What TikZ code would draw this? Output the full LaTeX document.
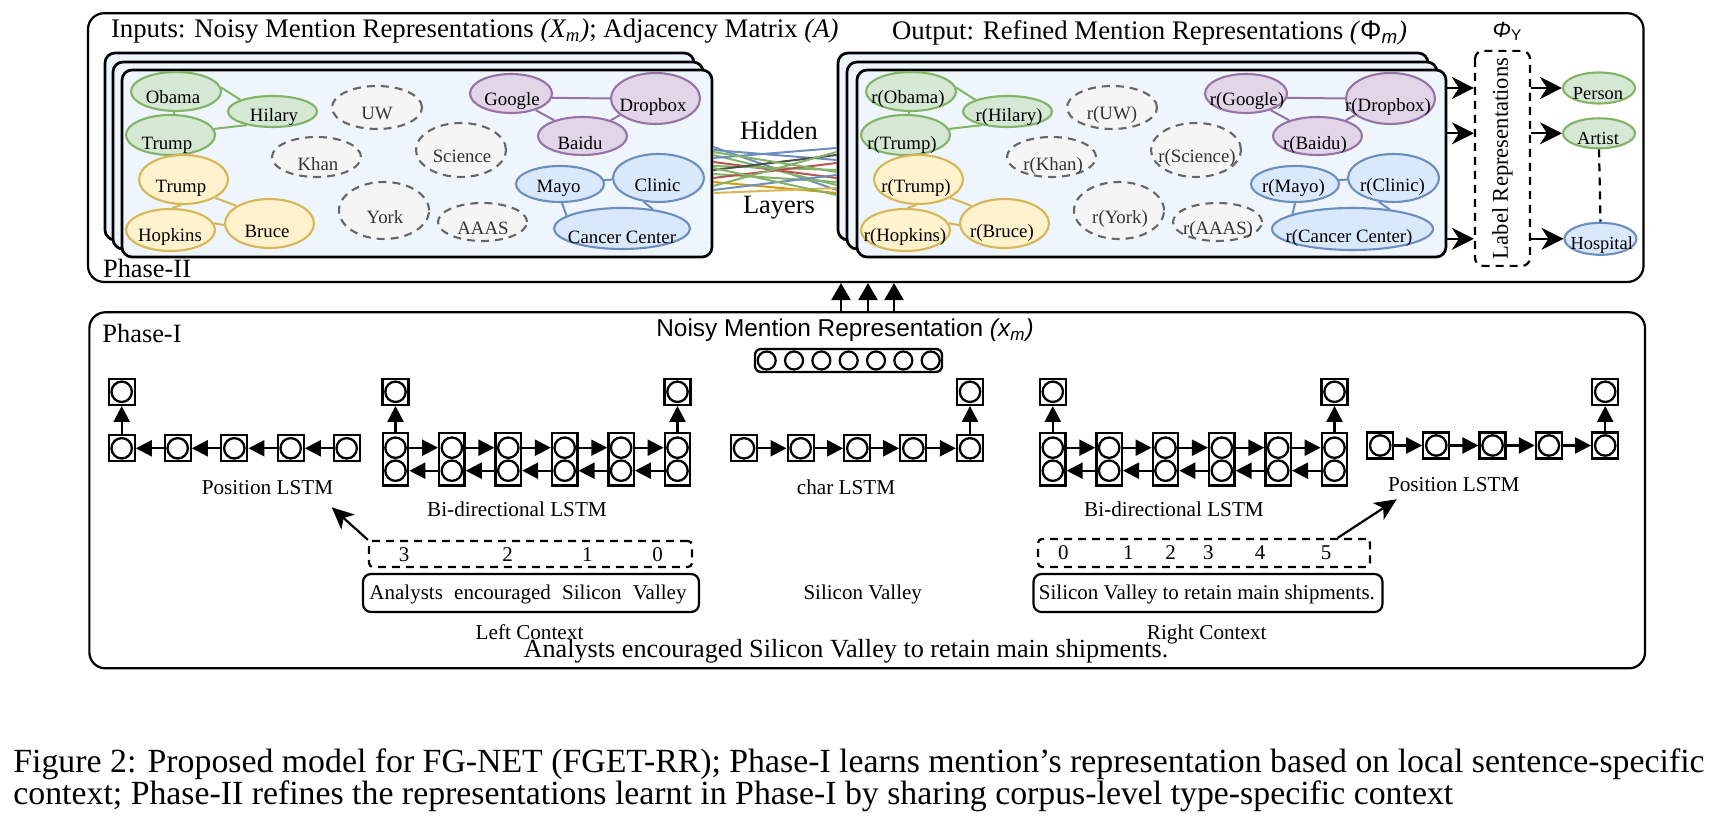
\documentclass[tikz,border=0pt]{standalone}
\usepackage{fontspec}
\setmainfont{Liberation Serif}
\newfontfamily\sansf{Liberation Sans}
\usetikzlibrary{shapes.geometric,arrows.meta,calc}
\newcommand{\fsz}[1]{\fontsize{#1}{#1}\selectfont}
\definecolor{gfill}{HTML}{D5E8D4}\definecolor{gdraw}{HTML}{82B366}
\definecolor{yfill}{HTML}{FFF2CC}\definecolor{ydraw}{HTML}{D6B656}
\definecolor{pfill}{HTML}{E1D5E7}\definecolor{pdraw}{HTML}{9673A6}
\definecolor{bfill}{HTML}{DAE8FC}\definecolor{bdraw}{HTML}{6C8EBF}
\definecolor{dfill}{HTML}{F5F5F5}\definecolor{ddraw}{HTML}{666666}
\definecolor{dtext}{HTML}{333333}
\definecolor{panelfill}{HTML}{EEF5FD}
\definecolor{hbl}{HTML}{6C8EBF}\definecolor{hrd}{HTML}{B85450}
\definecolor{hgr}{HTML}{82B366}\definecolor{hdg}{HTML}{4D4D4D}
\definecolor{hor}{HTML}{D79B00}\definecolor{hyl}{HTML}{D6B656}
\begin{document}
\begin{tikzpicture}[x=0.5pt,y=-0.5pt,
 sz/.style 2 args={minimum width=#1*0.5pt, minimum height=#2*0.5pt},
 ell/.style={ellipse, inner sep=0pt, line width=1.05pt},
 gn/.style={ell, draw=gdraw, fill=gfill},
 yn/.style={ell, draw=ydraw, fill=yfill},
 pn/.style={ell, draw=pdraw, fill=pfill},
 bn/.style={ell, draw=bdraw, fill=bfill},
 dn/.style={ell, draw=ddraw, fill=dfill, dash pattern=on 4pt off 3pt},
 mtext/.style={anchor=base, inner sep=0pt, font=\fsz{9.4pt}},
 gn-t/.style={mtext}, yn-t/.style={mtext}, pn-t/.style={mtext}, bn-t/.style={mtext},
 dn-t/.style={mtext, text=dtext},
 ge/.style={draw=gdraw, line width=1pt},
 ye/.style={draw=ydraw, line width=1pt},
 pe/.style={draw=pdraw, line width=1pt},
 be/.style={draw=bdraw, line width=1pt},
 panel/.style={draw, line width=1.35pt, rounded corners=5pt, fill=panelfill, inner sep=0pt},
 phase/.style={draw, line width=1.1pt, rounded corners=8pt, inner sep=0pt},
 cellbox/.style={draw, line width=1.15pt, minimum size=13pt, inner sep=0pt},
 cellcirc/.style={circle, draw, line width=1.15pt, minimum size=10.2pt, inner sep=0pt},
 bibox/.style={draw, line width=1.15pt, minimum width=12.7pt, minimum height=26.4pt, inner sep=0pt},
 la/.style={line width=1.15pt, -{Triangle[length=8pt,width=8pt]}},
 bigarr/.style={line width=1.1pt, -{Stealth[length=11pt,width=11pt,inset=3.5pt]}},
 triarr/.style={line width=1.1pt, -{Triangle[length=8.5pt,width=9.5pt]}},
 ctxarr/.style={line width=1.1pt, -{Stealth[length=11pt,width=10pt,inset=3pt]}},
 txt/.style={anchor=base, inner sep=0pt},
 lstmlbl/.style={txt, font=\fsz{10.6pt}},
 numlbl/.style={txt, font=\fsz{10.5pt}},
 dashbox/.style={draw, line width=1.1pt, dash pattern=on 4pt off 3pt, rounded corners=2pt, inner sep=0pt},
 ctxbox/.style={draw, line width=1.1pt, rounded corners=4pt, inner sep=0pt},
]
\useasboundingbox (0,0) rectangle (1719,822);
\fill[white] (0,0) rectangle (1719,822);

% ---------------- Phase II ----------------
\node[phase, sz={1555.5}{268.7}] (ph2) at (865.75,147.6) {};
\node[txt, anchor=base west, font=\fsz{13.4pt}] (intitle) at (110.6,37.3)
 {Inputs: Noisy Mention Representations \textit{(X\textsubscript{m})}; Adjacency Matrix \textit{(A)}};
\node[txt, anchor=base west, font=\fsz{13.4pt}] (outtitle) at (891.7,39.5)
 {Output: Refined Mention Representations \textit{(}{\sansf Φ\textsubscript{\itshape m}}\textit{)}};
\node[txt, anchor=base west, font=\fsz{13.2pt}] (ph2lbl) at (102.7,278) {Phase-II};

% stacked panels
\node[panel, sz={589}{187}] (Lb) at (399.5,146.5) {};
\node[panel, sz={590}{187}] (Lm) at (408,155.5) {};
\node[panel, sz={590}{187}] (Lf) at (417,163.5) {};
\node[panel, sz={590}{187}] (Rb) at (1133,146.5) {};
\node[panel, sz={590}{187}] (Rm) at (1142,155.5) {};
\node[panel, sz={589}{187}] (Rf) at (1151.5,163.5) {};

% hidden layer lines
\foreach \a/\b/\c in {147/190/hbl,150/160/hbl,155/185/hgr,158/148/hbl,162/178/hrd,166/170/hgr,
 170/155/hdg,174/182/hgr,178/163/hrd,182/193/hor,186/152/hgr,190/175/hbl,193/188/hyl,168/195/hgr,152/172/hgr}
 \draw[\c, line width=1pt] ($(Lf.east)+(0,\a-163.5)$) -- ($(Rb.west)+(0,\b-146.5)$);
\node[txt, font=\fsz{13.2pt}] (hidden) at (779,140) {Hidden};
\node[txt, font=\fsz{13.2pt}] (layers) at (779,213.3) {Layers};

% mention nodes
\foreach \n/\s/\cx/\cy/\w/\h/\tx/\ty/\t in {
 obama/gn/176/91.5/90/39/173/103.3/Obama,
 hilary/gn/272.5/111.5/89/31/274/121.7/Hilary,
 trumpg/gn/170.5/135/89/40/167/149.3/Trump,
 trumpy/yn/183.5/179.5/89/49/181/192.7/Trump,
 hopkins/yn/170.5/230/89/42/170/241.7/Hopkins,
 bruce/yn/269.5/223.5/89/49/267/237.3/Bruce,
 uw/dn/377/107.5/90/43/377/120/UW,
 khan/dn/316.5/157/89/40/318/170.7/Khan,
 science/dn/461/150/90/54/462/162.7/Science,
 york/dn/384/210.5/90/57/385/224/York,
 aaas/dn/482.5/222/89/38/483/235/AAAS,
 google/pn/511/93.5/82/39/512/106/Google,
 baidu/pn/582.5/136/89/38/580/149.3/Baidu,
 dropbox/pn/655.5/98.5/89/51/653/111.7/Dropbox,
 mayo/bn/560/184/88/36/558.5/192.7/Mayo,
 clinic/bn/658.5/178/91/48/657.5/191.7/Clinic}
{
 \node[\s, sz={\w}{\h}] (L-\n) at (\cx,\cy) {};
 \node[\s-t] (L-\n-t) at (\tx,\ty) {\t};
 \node[\s, sz={\w}{\h}] (R-\n) at (\cx+735,\cy) {};
 \node[\s-t] (R-\n-t) at (\tx+735,\ty) {r(\t)};
}
\node[bn, sz={136}{41}] (L-cancer) at (622,228.5) {};
\node[bn-t] (L-cancer-t) at (622,243.3) {Cancer Center};
\node[bn, sz={161}{42}] (R-cancer) at (1352.5,229) {};
\node[bn-t] (R-cancer-t) at (1349,242.7) {r(Cancer Center)};

\foreach \p in {L,R} {
 \draw[ge] (\p-obama.5) -- (\p-hilary.160);
 \draw[ge] (\p-obama.265) -- (\p-trumpg.80);
 \draw[ge] (\p-trumpg.8) -- (\p-hilary.208);
 \draw[ye] (\p-trumpy.265) -- (\p-hopkins.85);
 \draw[ye] (\p-trumpy.-30) -- (\p-bruce.152);
 \draw[ye] (\p-hopkins.9) -- (\p-bruce.182);
 \draw[pe] (\p-google.-6) -- (\p-dropbox.180);
 \draw[pe] (\p-google.-34) -- (\p-baidu.151);
 \draw[pe] (\p-baidu.29) -- (\p-dropbox.205);
 \draw[be] (\p-mayo.5) -- (\p-clinic.182);
}
\draw[be] (L-mayo.-84) -- (L-cancer.167);
\draw[be] (L-clinic.238) -- (L-cancer.32);
\draw[be] (R-mayo.-90) -- (R-cancer.166);
\draw[be] (R-clinic.238) -- (R-cancer.28);

% label representations
\node[dashbox, rounded corners=4pt, rotate=90, sz={215}{55}, font=\fsz{11.3pt}] (lbl) at (1502.5,158.4) {Label Representations};
\node[txt, font=\fsz{11pt}] (phiy) at (1507.5,37.3) {\sansf\itshape Φ\textsubscript{\upshape Y}};
\node[gn, sz={72}{31}] (person) at (1599,88) {};
\node[gn-t, font=\fsz{9.2pt}] (person-t) at (1598,100) {Person};
\node[gn, sz={72}{30}] (artist) at (1599,133.3) {};
\node[gn-t, font=\fsz{9.2pt}] (artist-t) at (1598,145) {Artist};
\node[bn, sz={72}{32}] (hospital) at (1600.5,238.8) {};
\node[bn-t, font=\fsz{9.2pt}] (hospital-t) at (1601.7,250) {Hospital};
\foreach \t in {person,artist,hospital} {
 \draw[bigarr] (Rf.east |- \t) -- (lbl.north |- \t);
 \draw[bigarr] (lbl.south |- \t) -- (\t.west);
}
\draw[line width=1.1pt, dash pattern=on 4pt off 3pt] (artist.south) -- (hospital.north);

% triple arrows
\node[phase, sz={1555.7}{356}] (ph1) at (867.2,490.3) {};
\foreach \ax [count=\k] in {841,868,894} {
 \coordinate (ua\k) at (\ax,297);
 \draw[triarr] (ph1.north -| ua\k) -- (ph2.south -| ua\k);
}

% ---------------- Phase I ----------------
\node[txt, anchor=base west, font=\fsz{13.2pt}] (ph1lbl) at (102,343) {Phase-I};
\node[txt, font=\fsz{12.2pt}] (noisy) at (845,336.7) {\sansf Noisy Mention Representation \itshape(x\textsubscript{m})};
\node[ctxbox, rounded corners=3pt, line width=1.15pt, sz={187}{23}] (vec) at (848.5,360.5) {};
\foreach \i in {0,...,6}
 \node[circle, draw, line width=1.1pt, minimum size=9pt, inner sep=0pt] (vec\i) at (766.7+27.33*\i,360.5) {};

% left position LSTM (right to left)
\foreach \x [count=\i] in {121.7,177.7,234.3,290.7,346.7} {
 \node[cellbox] (lp\i) at (\x,448.3) {};
 \node[cellcirc] (lp\i-c) at (\x,448.3) {};
}
\foreach \i/\j in {5/4,4/3,3/2,2/1} \draw[la] (lp\i.west) -- (lp\j.east);
\node[cellbox] (lpo) at (121.7,391.8) {}; \node[cellcirc] (lpo-c) at (121.7,391.8) {};
\draw[la] (lp1.north) -- (lpo.south);
\node[lstmlbl] (lplbl) at (267.5,495) {Position LSTM};

% bi-directional LSTMs
\foreach \pre/\xs/\dx in {lb/395.5/56.4, rb/1052.8/56.34} {
 \foreach \i in {0,...,5} {
  \pgfmathsetmacro\xx{\xs+\dx*\i}
  \node[bibox] (\pre\i) at (\xx,459.2) {};
  \node[cellcirc] (\pre\i-t) at (\xx,447.7) {};
  \node[cellcirc] (\pre\i-b) at (\xx,470.7) {};
 }
 \foreach \i [evaluate=\i as \j using int(\i+1)] in {0,...,4} {
  \draw[la] (\pre\i.east |- \pre\i-t) -- (\pre\j.west |- \pre\i-t);
  \draw[la] (\pre\j.west |- \pre\i-b) -- (\pre\i.east |- \pre\i-b);
 }
 \foreach \i in {0,5} {
  \pgfmathsetmacro\xx{\xs+\dx*\i}
  \node[cellbox] (\pre-o\i) at (\xx,391.8) {};
  \node[cellcirc] (\pre-o\i-c) at (\xx,391.8) {};
  \draw[la] (\pre\i.north) -- (\pre-o\i.south);
 }
}
\node[lstmlbl] (lblbl) at (517,516.7) {Bi-directional LSTM};
\node[lstmlbl] (rblbl) at (1174,516.7) {Bi-directional LSTM};

% char LSTM
\foreach \x [count=\i] in {744,800.7,857.3,913.3,970} {
 \node[cellbox] (ch\i) at (\x,448.3) {};
 \node[cellcirc] (ch\i-c) at (\x,448.3) {};
}
\foreach \i/\j in {1/2,2/3,3/4,4/5} \draw[la] (ch\i.east) -- (ch\j.west);
\node[cellbox] (cho) at (970,391.8) {}; \node[cellcirc] (cho-c) at (970,391.8) {};
\draw[la] (ch5.north) -- (cho.south);
\node[lstmlbl] (chlbl) at (846,495) {char LSTM};

% right position LSTM
\foreach \x [count=\i] in {1380.2,1436.3,1492.6,1548.9,1605.2} {
 \node[cellbox] (rp\i) at (\x,445.5) {};
 \node[cellcirc] (rp\i-c) at (\x,445.5) {};
}
\foreach \i/\j in {1/2,2/3,3/4,4/5} \draw[la] (rp\i.east) -- (rp\j.west);
\node[cellbox] (rpo) at (1605.2,391.8) {}; \node[cellcirc] (rpo-c) at (1605.2,391.8) {};
\draw[la] (rp5.north) -- (rpo.south);
\node[lstmlbl] (rplbl) at (1453.7,491.7) {Position LSTM};

% contexts
\node[dashbox, sz={323}{26}] (ldash) at (530.5,554) {};
\foreach \v/\x in {3/404,2/507.7,1/587.3,0/657.6} \node[numlbl] (ln\v) at (\x,562) {\v};
\node[ctxbox, sz={336}{38}] (lsolid) at (531,593) {};
\node[lstmlbl, font=\fsz{10.5pt}] (lsolid-t) at (528,600) {Analysts\hspace{5.6pt}encouraged\hspace{5.6pt}Silicon\hspace{5.6pt}Valley};
\node[lstmlbl] (lctx) at (529.5,640) {Left Context};

\node[lstmlbl, font=\fsz{10.5pt}] (mid-t) at (862.7,600) {Silicon Valley};

\node[dashbox, sz={332}{28}] (rdash) at (1204,553) {};
\foreach \v/\x in {0/1063.3,1/1128.3,2/1170.7,3/1208.3,4/1260,5/1326} \node[numlbl] (rn\v) at (\x,560) {\v};
\node[ctxbox, sz={349}{38}] (rsolid) at (1208,593) {};
\node[lstmlbl, font=\fsz{10.5pt}] (rsolid-t) at (1206.9,600) {Silicon Valley to retain main shipments.};
\node[lstmlbl] (rctx) at (1206.7,640) {Right Context};

\coordinate (ltip) at (331.7,507.3);
\draw[ctxarr] (ldash.north west) -- (ltip);
\coordinate (rtip) at (1396.7,499.3);
\draw[ctxarr] ($(rdash.north west)!0.9!(rdash.north east)$) -- (rtip);

\node[txt, font=\fsz{13.1pt}] (sentence) at (846,658) {Analysts encouraged Silicon Valley to retain main shipments.};

% caption
\node[txt, anchor=base west, font=\fsz{16.9pt}] (cap1) at (13,773) {Figure 2: Proposed model for FG-NET (FGET-RR); Phase-I learns mention’s representation based on local sentence-specific};
\node[txt, anchor=base west, font=\fsz{16.9pt}] (cap2) at (13,805) {context; Phase-II refines the representations learnt in Phase-I by sharing corpus-level type-specific context};
\end{tikzpicture}
\end{document}
